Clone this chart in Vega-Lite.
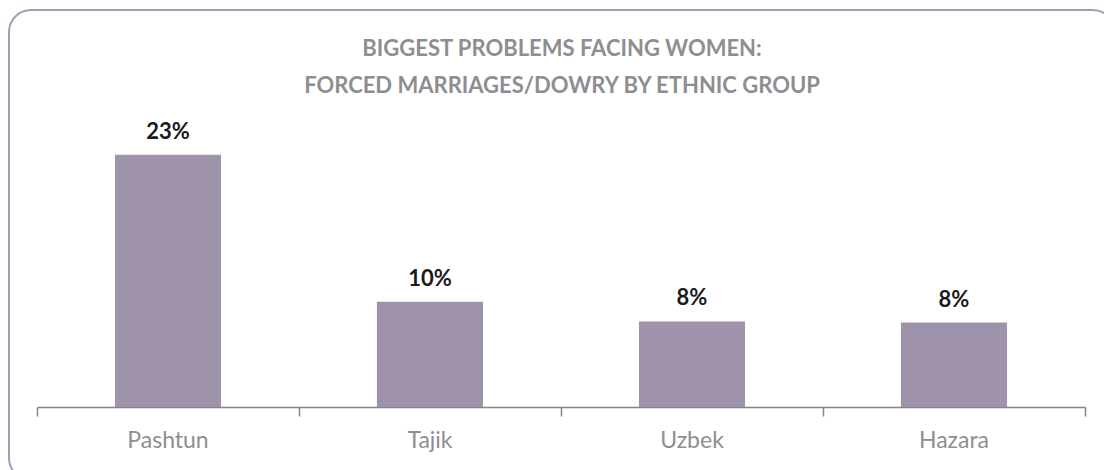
{
  "$schema": "https://vega.github.io/schema/vega-lite/v6.json",
  "autosize": "none",
  "padding": {"left": 9, "top": 10, "right": 0, "bottom": 0},
  "width": 1106,
  "height": 470,
  "background": "white",
  "config": {
    "view": {"stroke": "#A49CB2", "strokeWidth": 2, "cornerRadius": 22, "fill": "white"},
    "font": "Lato"
  },
  "title": {
    "text": ["BIGGEST PROBLEMS FACING WOMEN:", "FORCED MARRIAGES/DOWRY BY ETHNIC GROUP"],
    "font": "Lato",
    "fontSize": 22,
    "fontWeight": "bold",
    "color": "#8E8E92",
    "lineHeight": 37,
    "anchor": "middle",
    "frame": "group",
    "baseline": "top",
    "offset": 0,
    "dy": 88
  },
  "data": {
    "values": [
      {"group": "Pashtun", "share": 0.23},
      {"group": "Tajik", "share": 0.096},
      {"group": "Uzbek", "share": 0.078},
      {"group": "Hazara", "share": 0.077}
    ]
  },
  "encoding": {
    "x": {
      "field": "group",
      "type": "nominal",
      "sort": null,
      "scale": {"domain": ["Pashtun", "Tajik", "Uzbek", "Hazara"], "padding": 0, "range": [28, 1076]},
      "axis": {
        "title": null,
        "orient": "bottom",
        "offset": -73,
        "bandPosition": 1,
        "tickExtra": true,
        "domainColor": "#858585",
        "domainWidth": 1.5,
        "tickColor": "#858585",
        "tickWidth": 1.5,
        "tickSize": 9,
        "labelAngle": 0,
        "labelFont": "Lato",
        "labelFontSize": 23,
        "labelColor": "#8E8E92",
        "labelPadding": 13
      }
    },
    "y": {
      "field": "share",
      "type": "quantitative",
      "scale": {"domain": [0, 0.28], "range": [397, 90], "nice": false, "zero": true},
      "axis": null
    }
  },
  "layer": [
    {
      "mark": {"type": "bar", "color": "#9E93AB", "width": {"band": 0.405}}
    },
    {
      "mark": {"type": "text", "baseline": "alphabetic", "dy": -16, "fontSize": 22, "fontWeight": "bold", "color": "#1A1A1A", "font": "Lato"},
      "encoding": {
        "text": {"field": "share", "type": "quantitative", "format": ".0%"}
      }
    }
  ]
}
